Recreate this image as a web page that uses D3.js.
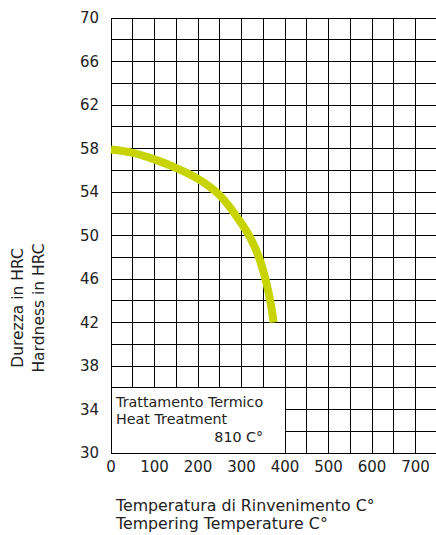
<!DOCTYPE html>
<html>
<head>
<meta charset="utf-8">
<script src="https://cdn.jsdelivr.net/npm/d3@7"></script>
<style>
  body { margin: 0; background: #fff; }
  text { font-family: "DejaVu Sans", sans-serif; fill: #222; }
</style>
</head>
<body>
<div id="chart"></div>
<script>
// Tempering curve: temperature (C) vs hardness (HRC).
var temps    = [0, 50, 100, 150, 200, 250, 300, 320, 340, 355, 366, 374];
var hardness = [57.9, 57.6, 57.0, 56.2, 55.2, 53.7, 51.1, 49.8, 48.0, 46.0, 44.0, 42.0];

var yTicks = [30, 34, 38, 42, 46, 50, 54, 58, 62, 66, 70];
var xTicks = [0, 100, 200, 300, 400, 500, 600, 700];

var yTitle = ["Durezza in HRC", "Hardness in HRC"];
var xTitle = ["Temperatura di Rinvenimento C°", "Tempering Temperature C°"];
var boxLines = ["Trattamento Termico", "Heat Treatment"];
var boxTemp = "810 C°";

var width = 436, height = 535;
var plotLeft = 111, plotTop = 18, plotBottom = 453, plotRight = 437.25;

var svg = d3.select("#chart").append("svg")
    .attr("width", width)
    .attr("height", height);

var x = d3.scaleLinear().domain([0, 750]).range([plotLeft, plotRight]);
var y = d3.scaleLinear().domain([30, 70]).range([plotBottom, plotTop]);

// Grid: every 50 C and every 2 HRC.
var grid = svg.append("g")
    .attr("stroke", "#000")
    .attr("stroke-width", 1)
    .attr("shape-rendering", "crispEdges");

grid.selectAll("line.v")
    .data(d3.range(0, 751, 50))
  .enter().append("line")
    .attr("class", "v")
    .attr("x1", function(d) { return x(d); })
    .attr("x2", function(d) { return x(d); })
    .attr("y1", y(70))
    .attr("y2", y(30));

grid.selectAll("line.h")
    .data(d3.range(30, 71, 2))
  .enter().append("line")
    .attr("class", "h")
    .attr("x1", x(0))
    .attr("x2", x(750))
    .attr("y1", function(d) { return y(d); })
    .attr("y2", function(d) { return y(d); });

// Heat treatment box over the bottom left corner of the grid.
svg.append("rect")
    .attr("x", x(0))
    .attr("y", y(36))
    .attr("width", x(400) - x(0))
    .attr("height", y(30) - y(36))
    .attr("fill", "#fff")
    .attr("stroke", "#000")
    .attr("shape-rendering", "crispEdges");

svg.selectAll("text.box")
    .data(boxLines)
  .enter().append("text")
    .attr("class", "box")
    .attr("x", x(0) + 5)
    .attr("y", function(d, i) { return y(36) + 14 + i * 17.5; })
    .attr("dy", "0.36em")
    .attr("font-size", 14.3)
    .text(function(d) { return d; });

svg.append("text")
    .attr("x", x(350))
    .attr("y", y(36) + 49.5)
    .attr("dy", "0.36em")
    .attr("text-anchor", "end")
    .attr("font-size", 14.3)
    .text(boxTemp);

// Curve.
var line = d3.line()
    .x(function(d, i) { return x(temps[i]); })
    .y(function(d) { return y(d); })
    .curve(d3.curveCatmullRom.alpha(0.5));

svg.append("path")
    .datum(hardness)
    .attr("d", line)
    .attr("fill", "none")
    .attr("stroke", "#c8d400")
    .attr("stroke-width", 8);

// Tick labels.
svg.selectAll("text.ytick")
    .data(yTicks)
  .enter().append("text")
    .attr("class", "ytick")
    .attr("x", 99)
    .attr("y", function(d) { return y(d); })
    .attr("dy", "0.36em")
    .attr("text-anchor", "end")
    .attr("font-size", 15)
    .text(function(d) { return d; });

svg.selectAll("text.xtick")
    .data(xTicks)
  .enter().append("text")
    .attr("class", "xtick")
    .attr("x", function(d) { return x(d); })
    .attr("y", 467)
    .attr("dy", "0.36em")
    .attr("text-anchor", "middle")
    .attr("font-size", 15)
    .text(function(d) { return d; });

// Axis titles.
svg.selectAll("text.ytitle")
    .data(yTitle)
  .enter().append("text")
    .attr("class", "ytitle")
    .attr("transform", function(d, i) {
      return "translate(" + (17 + i * 21.5) + ",308) rotate(-90)";
    })
    .attr("dy", "0.36em")
    .attr("text-anchor", "middle")
    .attr("font-size", 15.5)
    .text(function(d) { return d; });

svg.selectAll("text.xtitle")
    .data(xTitle)
  .enter().append("text")
    .attr("class", "xtitle")
    .attr("x", 116)
    .attr("y", function(d, i) { return 505 + i * 18; })
    .attr("dy", "0.36em")
    .attr("font-size", 15.8)
    .text(function(d) { return d; });
</script>
</body>
</html>
